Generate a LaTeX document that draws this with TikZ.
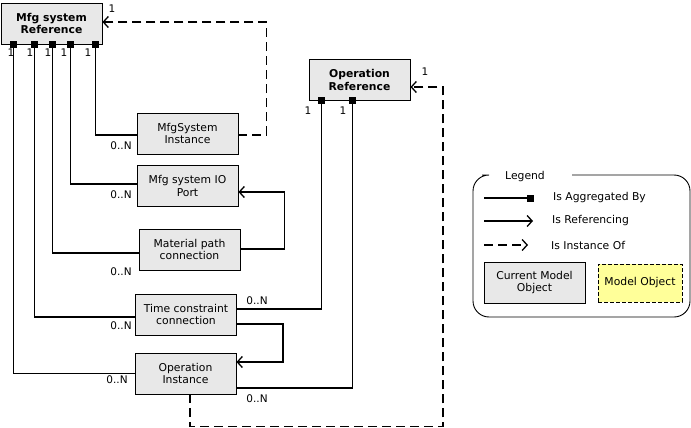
\documentclass[tikz,border=0pt]{standalone}
\usepackage{fontspec}
\setmainfont{DejaVu Sans}
\usetikzlibrary{arrows.meta,calc}
\definecolor{boxfill}{HTML}{E8E8E8}
\definecolor{modelfill}{HTML}{FFFF99}
\tikzset{
  obj/.style={draw=black, line width=0.9pt, fill=boxfill, minimum width=101pt,
    minimum height=41pt, inner sep=0pt, align=center,
    font=\fontsize{10.8}{12.8}\selectfont},
  agg/.style={line width=1.3pt, {Square[length=7pt,width=7pt]}-, shorten <=-3.5pt},
  aggend/.style={line width=1.3pt, -{Square[length=7pt,width=7pt]}},
  refarr/.style={line width=1.3pt, -{Straight Barb[length=5pt,width=11pt,line width=1.3pt]}},
  inst/.style={line width=1.3pt, dash pattern=on 9pt off 5pt,
    -{Straight Barb[length=5pt,width=11pt,line width=1.3pt]}},
  mult/.style={font=\fontsize{10.5}{12}\selectfont, inner sep=0pt},
  lbl/.style={font=\fontsize{10.8}{12}\selectfont, inner sep=0pt, anchor=west},
}
\begin{document}
\begin{tikzpicture}[x=1pt,y=-1pt]
\useasboundingbox (0,0) rectangle (691,428);

% model objects
\node[obj, font=\bfseries\fontsize{10.8}{12.8}\selectfont] (mref) at (51.5,23.5) {Mfg system\\Reference};
\node[obj, font=\bfseries\fontsize{10.8}{12.8}\selectfont] (oref) at (359.5,80) {Operation\\Reference};
\node[obj] (msi) at (187.5,133.5) {MfgSystem\\Instance};
\node[obj] (iop) at (187.5,186) {Mfg system IO\\Port};
\node[obj] (mpc) at (189.5,249.5) {Material path\\connection};
\node[obj] (tcc) at (186,314.5) {Time constraint\\connection};
\node[obj] (oin) at (185.5,373.5) {Operation\\Instance};

% aggregation of the manufacturing system reference
\draw[agg] ($(mref.south west)+(13,0)$) |- (oin.west);
\draw[agg] ($(mref.south west)+(34,0)$) |- ($(tcc.west)+(0,2.5)$);
\draw[agg] ($(mref.south west)+(52,0)$) |- ($(mpc.west)+(0,3.5)$);
\draw[agg] ($(mref.south west)+(70,0)$) |- ($(iop.west)+(0,-2)$);
\draw[agg] ($(mref.south west)+(95,0)$) |- ($(msi.west)+(0,1.5)$);

% aggregation of the operation reference
\draw[agg] ($(oref.south west)+(13,0)$) |- ($(tcc.east)+(0,-5.5)$);
\draw[agg] ($(oref.south west)+(44,0)$) |- ($(oin.east)+(0,14.5)$);

% references
\draw[refarr] ($(mpc.east)+(0,-0.5)$) -- ++(44,0) |- ($(iop.east)+(0,6)$);
\draw[refarr] ($(tcc.east)+(0,9.5)$) -- ++(46,0) |- ($(oin.east)+(0,-11.5)$);

% instances
\draw[inst] ($(msi.east)+(0,1.5)$) -- ++(28,0) |- ($(mref.east)+(0,-1.5)$);
\draw[inst] ($(oin.south)+(4.5,0)$) -- ++(0,32) -| (443,120) |- ($(oref.east)+(0,7)$);

% multiplicities
\node[mult] (m1) at (112,9) {1};
\node[mult] (m2) at (11,53) {1};
\node[mult] (m3) at (30,53) {1};
\node[mult] (m4) at (48,53) {1};
\node[mult] (m5) at (64,53) {1};
\node[mult] (m6) at (88,53) {1};
\node[mult] (m7) at (308,111) {1};
\node[mult] (m8) at (343,111) {1};
\node[mult] (m9) at (425,72) {1};
\node[mult] (n1) at (121,146) {0..N};
\node[mult] (n2) at (121,195) {0..N};
\node[mult] (n3) at (121,272) {0..N};
\node[mult] (n4) at (121,326) {0..N};
\node[mult] (n5) at (257,301) {0..N};
\node[mult] (n6) at (117,380) {0..N};
\node[mult] (n7) at (257,399) {0..N};

% legend
\draw[line width=0.9pt, rounded corners=16pt] (482,175) -- (473,175) -- (473,317)
  -- (690,317) -- (690,175) -- (572,175);
\node[font=\fontsize{10.8}{12}\selectfont, inner sep=0pt] (legend) at (525,177) {Legend};
\coordinate (la1) at (484,198);
\coordinate (la2) at (534,198);
\coordinate (lr1) at (484,221);
\coordinate (lr2) at (533,221);
\coordinate (li1) at (484,245);
\coordinate (li2) at (528,245);
\draw[aggend] (la1) -- (la2);
\draw[refarr] (lr1) -- (lr2);
\draw[inst] (li1) -- (li2);
\node[lbl] (tagg) at (553,198) {Is Aggregated By};
\node[lbl] (tref) at (552,221) {Is Referencing};
\node[lbl] (tins) at (551,245) {Is Instance Of};
\node[obj] (cmo) at (534.5,282.5) {Current Model\\Object};
\node[obj, fill=modelfill, dash pattern=on 4pt off 2pt, minimum width=84pt,
  minimum height=38pt] (mo) at (640,283) {Model Object};
\end{tikzpicture}
\end{document}
